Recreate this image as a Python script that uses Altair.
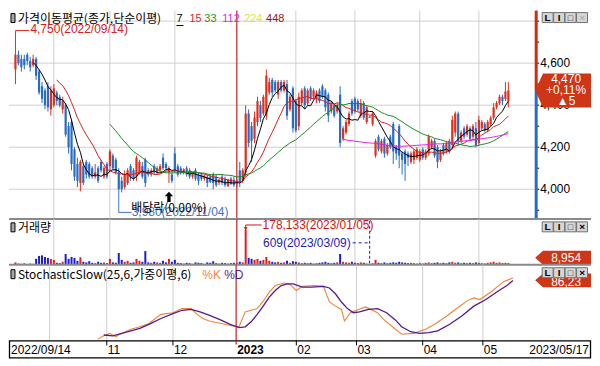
import altair as alt
import pandas as pd

# ------------------------------------------------------------------ data
opens = [4570, 4640, 4620, 4620, 4640, 4610, 4590, 4620, 4560, 4490,
         4470, 4490, 4380, 4400, 4460, 4440, 4380, 4400, 4300, 4320,
         4190, 4120, 4030, 4110, 4130, 4120, 4100, 4060, 4100, 4130,
         4060, 4120, 4110, 4160, 4140, 4080, 4040, 4010, 4030, 4110,
         4090, 4060, 4080, 4110, 4140, 4090, 4070, 4110, 4080, 4090,
         4150, 4120, 4080, 4070, 4170, 4110, 4100, 4080, 4100, 4090,
         4060, 4090, 4070, 4070, 4050, 4060, 4060, 4070, 4060, 4030,
         4060, 4050, 4015, 4050, 4045, 4025, 4090, 4040, 4080, 4360,
         4300, 4240, 4320, 4400, 4360, 4350, 4460, 4520, 4510, 4450,
         4510, 4470, 4500, 4380, 4480, 4420, 4300, 4410, 4480, 4410,
         4480, 4440, 4430, 4470, 4490, 4470, 4450, 4370, 4400, 4370,
         4450, 4240, 4270, 4310, 4420, 4430, 4420, 4350, 4410, 4320,
         4345, 4310, 4160, 4250, 4180, 4240, 4170, 4250, 4310, 4200,
         4300, 4170, 4180, 4170, 4130, 4140, 4150, 4140, 4190, 4150,
         4170, 4200, 4230, 4200, 4140, 4210, 4180, 4230, 4210, 4270,
         4360, 4230, 4290, 4260, 4290, 4250, 4290, 4220, 4290, 4310,
         4280, 4310, 4340, 4390, 4410, 4440, 4430, 4420]
highs = [4750, 4660, 4640, 4640, 4650, 4630, 4640, 4630, 4570, 4510,
         4480, 4510, 4490, 4500, 4470, 4450, 4440, 4410, 4320, 4330,
         4200, 4150, 4140, 4120, 4140, 4130, 4110, 4120, 4110, 4140,
         4110, 4130, 4190, 4170, 4150, 4100, 4060, 4090, 4100, 4120,
         4100, 4160, 4140, 4130, 4150, 4100, 4100, 4120, 4110, 4120,
         4170, 4130, 4110, 4080, 4200, 4120, 4110, 4100, 4110, 4100,
         4080, 4100, 4080, 4080, 4070, 4070, 4070, 4080, 4070, 4050,
         4070, 4060, 4050, 4060, 4060, 4050, 4130, 4100, 4400, 4380,
         4320, 4370, 4440, 4420, 4450, 4570, 4530, 4530, 4520, 4520,
         4520, 4520, 4520, 4450, 4490, 4430, 4460, 4480, 4490, 4480,
         4490, 4480, 4470, 4480, 4500, 4480, 4460, 4420, 4410, 4410,
         4490, 4300, 4330, 4370, 4430, 4440, 4430, 4430, 4420, 4400,
         4350, 4370, 4240, 4260, 4240, 4250, 4220, 4260, 4320, 4210,
         4310, 4180, 4190, 4180, 4180, 4190, 4200, 4190, 4200, 4190,
         4260, 4240, 4240, 4210, 4190, 4220, 4230, 4240, 4350, 4370,
         4370, 4280, 4300, 4310, 4300, 4310, 4320, 4350, 4330, 4320,
         4330, 4350, 4410, 4420, 4450, 4450, 4510, 4510]
lows = [4500, 4590, 4560, 4570, 4590, 4560, 4580, 4520, 4450, 4410,
        4380, 4370, 4350, 4390, 4400, 4390, 4360, 4250, 4170, 4090,
        4040, 4010, 3990, 4020, 4050, 4050, 4050, 4050, 4030, 4080,
        4050, 4050, 4090, 4090, 4070, 3980, 3985, 4000, 4020, 4040,
        4040, 4040, 4070, 4050, 4010, 4060, 4060, 4070, 4070, 4080,
        4090, 4090, 4030, 4030, 4080, 4060, 4070, 4070, 4060, 4050,
        4050, 4040, 4020, 4040, 4040, 4010, 4030, 4000, 4010, 4020,
        4020, 4010, 4010, 4020, 4010, 4010, 4010, 4030, 4060, 4200,
        4130, 4220, 4300, 4320, 4350, 4330, 4450, 4440, 4460, 4430,
        4460, 4460, 4330, 4370, 4270, 4270, 4280, 4400, 4380, 4400,
        4420, 4430, 4410, 4410, 4430, 4370, 4320, 4360, 4340, 4360,
        4200, 4230, 4260, 4300, 4350, 4360, 4370, 4340, 4330, 4310,
        4340, 4300, 4150, 4180, 4170, 4150, 4160, 4190, 4120, 4140,
        4100, 4070, 4040, 4110, 4120, 4120, 4140, 4130, 4140, 4140,
        4160, 4190, 4150, 4100, 4130, 4160, 4170, 4170, 4190, 4250,
        4210, 4220, 4240, 4250, 4230, 4240, 4200, 4210, 4280, 4270,
        4270, 4300, 4330, 4380, 4400, 4400, 4420, 4390]
closes = [4640, 4600, 4580, 4590, 4610, 4580, 4620, 4540, 4460, 4430,
          4400, 4390, 4470, 4480, 4420, 4400, 4420, 4260, 4200, 4120,
          4060, 4040, 4130, 4030, 4070, 4060, 4060, 4080, 4040, 4090,
          4100, 4060, 4180, 4100, 4080, 4000, 4000, 4070, 4090, 4060,
          4050, 4150, 4130, 4060, 4030, 4070, 4090, 4080, 4100, 4110,
          4100, 4100, 4100, 4040, 4090, 4070, 4080, 4095, 4070, 4060,
          4075, 4050, 4040, 4050, 4065, 4030, 4035, 4030, 4020, 4045,
          4030, 4020, 4045, 4025, 4020, 4040, 4030, 4090, 4360, 4220,
          4230, 4340, 4420, 4340, 4440, 4540, 4510, 4460, 4470, 4510,
          4470, 4510, 4350, 4440, 4290, 4280, 4440, 4470, 4400, 4470,
          4430, 4470, 4460, 4420, 4440, 4390, 4350, 4410, 4350, 4400,
          4220, 4290, 4320, 4360, 4360, 4370, 4380, 4410, 4340, 4390,
          4340, 4360, 4230, 4190, 4230, 4170, 4210, 4200, 4180, 4170,
          4160, 4140, 4120, 4150, 4170, 4180, 4190, 4180, 4150, 4180,
          4250, 4230, 4160, 4130, 4180, 4170, 4220, 4180, 4330, 4360,
          4230, 4270, 4250, 4300, 4240, 4300, 4210, 4330, 4320, 4280,
          4320, 4340, 4390, 4410, 4440, 4420, 4465, 4470]
volumes = [12000, 6000, 5000, 7000, 4000, 6000, 5000, 30000, 45000, 48000,
           40000, 35000, 30000, 25000, 10000, 8000, 15000, 55000, 30000, 40000,
           35000, 20000, 38000, 15000, 12000, 18000, 10000, 8000, 15000, 10000,
           12000, 8000, 30000, 12000, 10000, 60000, 25000, 15000, 20000, 10000,
           12000, 30000, 20000, 15000, 70000, 12000, 10000, 15000, 12000, 10000,
           20000, 12000, 30000, 15000, 25000, 10000, 8000, 6000, 10000, 8000,
           5000, 12000, 10000, 8000, 5000, 12000, 10000, 18000, 8000, 6000,
           10000, 8000, 6000, 8000, 10000, 8000, 15000, 12000, 178133, 35000,
           30000, 25000, 30000, 20000, 25000, 40000, 20000, 15000, 12000, 15000,
           10000, 12000, 20000, 10000, 18000, 15000, 12000, 8000, 10000, 8000,
           10000, 6000, 8000, 10000, 12000, 15000, 10000, 8000, 10000, 12000,
           55000, 15000, 12000, 10000, 15000, 10000, 8000, 12000, 10000, 6000,
           609, 8000, 25000, 10000, 8000, 12000, 8000, 10000, 12000, 10000,
           15000, 12000, 10000, 8000, 10000, 8000, 6000, 8000, 6000, 10000,
           12000, 8000, 10000, 12000, 8000, 10000, 8000, 12000, 15000, 10000,
           12000, 8000, 10000, 8000, 10000, 8000, 12000, 10000, 8000, 6000,
           10000, 12000, 15000, 10000, 12000, 8000, 10000, 8954]

k_idx = [29, 31, 33, 35, 37, 40, 43, 46, 50, 54, 57, 60, 62, 64, 66, 70, 74, 76,
         78, 80, 82, 84, 86, 88, 91, 93, 95, 97, 101, 104, 106, 108, 110, 111,
         113, 115, 118, 122, 124, 128, 130, 134, 138, 141, 145, 149, 152, 154,
         156, 160, 164, 167]
k_val = [15, 19, 22, 18, 22, 27, 30, 34, 45, 47, 52, 52, 45, 40, 37, 34, 31, 30,
         48, 50, 52, 61, 72, 80, 83, 81, 74, 79, 80, 79, 60, 55, 51, 37,
         47, 50, 54, 47, 39, 27, 21, 22, 27, 33, 43, 54, 62, 65,
         63, 73, 85, 89]
d_idx = [31, 34, 37, 40, 43, 46, 50, 54, 57, 60, 63, 66, 70, 73, 76, 78, 80, 82,
         84, 86, 88, 90, 92, 94, 97, 100, 104, 106, 108, 110, 112, 114, 116,
         119, 122, 125, 128, 130, 133, 136, 139, 142, 146, 150, 154, 158, 162,
         165, 167]
d_val = [20, 19, 22, 25, 28, 33, 40, 46, 50, 51, 48, 44, 38, 33, 29, 30, 36, 45,
         55, 66, 74, 80, 82, 82, 78, 78, 79, 77, 70, 60, 52, 47, 48,
         51, 52, 47, 38, 30, 24, 22, 23, 25, 33, 43, 55, 63, 73,
         80, 86]

month_idx = [13, 32, 54, 95, 115, 137, 157]
axis_idx = [32, 54, 95, 115, 137, 157]
axis_lbl = ['11', '12', '02', '03', '04', '05']
year_idx = 75
price_grid = [4000, 4200, 4400, 4600, 4800]
price_labels = [4000, 4200, 4400, 4600]
price_ticks = [3900, 4000, 4100, 4200, 4300, 4400, 4500, 4600, 4700, 4800]
ma_periods = [7, 15, 33, 112]

last_price = 4470
high_i, high_p = 0, 4750
low_i, low_p = 35, 3980
div_i = 52
vmax_i, vmin_i = 78, 120
stoch_last = 86.23

# ------------------------------------------------------------------ style
W, RA = 528, 56
H1, H2, H3, H4 = 209, 46, 76, 18
NF = "Liberation Sans, Arial, sans-serif"
KF = "Noto Sans CJK KR, sans-serif"
UP, DN = '#e0301c', '#2a6cc4'
VUP, VDN = '#e41c1c', '#1c1cd6'
GRID = '#cfcfcf'
YEARC = '#c81e1e'
SEP = '#8a8a8a'
BADGE = '#cf3517'
ma_colors = {7: '#000000', 15: '#e01e1e', 33: '#1e8a1e', 112: '#e41ee4'}

n = len(closes)
df = pd.DataFrame({'i': list(range(n)), 'open': opens, 'high': highs,
                   'low': lows, 'close': closes, 'vol': volumes})
df['col'] = [UP if c >= o else DN for o, c in zip(opens, closes)]
df['vcol'] = [VUP if c >= o else VDN for o, c in zip(opens, closes)]
for p in ma_periods:
    df[f'ma{p}'] = df['close'].rolling(p).mean()

ONE = pd.DataFrame({'d': [0]})
xs = alt.Scale(domain=[-0.5, 174.4], nice=False, zero=False)
ys1 = alt.Scale(domain=[3859, 4850], nice=False, zero=False)
ys2 = alt.Scale(domain=[0, 235000], nice=False, zero=True)
ys3 = alt.Scale(domain=[13.4, 105.2], nice=False, zero=False)
X = alt.X('i:Q', scale=xs, axis=None)


def Y1(f):
    return alt.Y(f, scale=ys1, axis=None)


def text(s, x, y, color='black', size=12, font=NF, align='left', weight='normal'):
    return alt.Chart(ONE).mark_text(text=s, align=align, baseline='middle', fontSize=size,
                                    font=font, color=color, fontWeight=weight).encode(
        x=alt.value(x), y=alt.value(y))


def icon(y0):
    return alt.Chart(ONE).mark_rect(fill='#a8a8a8', stroke='black', strokeWidth=1).encode(
        x=alt.value(2), x2=alt.value(6), y=alt.value(y0), y2=alt.value(y0 + 9))


def buttons(top, xcolor='black'):
    out = []
    glyphs = ['L', 'I', '□', '×']
    for k, g in enumerate(glyphs):
        x0 = W + 7 + k * 11.5
        out.append(alt.Chart(ONE).mark_rect(fill='#d6d6d6', stroke='#707070', strokeWidth=1).encode(
            x=alt.value(x0), x2=alt.value(x0 + 11), y=alt.value(top), y2=alt.value(top + 10)))
        out.append(alt.Chart(ONE).mark_text(text=g, fontSize=10 if g != '□' else 9, fontWeight='bold',
                                            font=NF, color=(xcolor if g == '×' else 'black'),
                                            baseline='middle', align='center').encode(
            x=alt.value(x0 + 5.5), y=alt.value(top + 5.5)))
    return out


def sep(h):
    return alt.Chart(ONE).mark_rule(color=SEP, strokeWidth=2).encode(
        x=alt.value(0), x2=alt.value(W + RA), y=alt.value(h))


def vgrid(h):
    return alt.Chart(pd.DataFrame({'i': month_idx})).mark_rule(color=GRID).encode(
        x=X, y=alt.value(0), y2=alt.value(h))


def yearline(h, top=0):
    return alt.Chart(pd.DataFrame({'i': [year_idx]})).mark_rule(color=YEARC, strokeWidth=1.2).encode(
        x=X, y=alt.value(top), y2=alt.value(h))


def badge(half):
    return f"M-1,0L-0.72,-{half}L1,-{half}L1,{half}L-0.72,{half}Z"


# ------------------------------------------------------------------ price panel
m_layers = [
    alt.Chart(pd.DataFrame({'p': price_grid})).mark_rule(color=GRID).encode(
        y=Y1('p:Q'), x=alt.value(0), x2=alt.value(W)),
    vgrid(H1),
    yearline(H1),
    alt.Chart(df).mark_rule(strokeWidth=1).encode(
        x=X, y=Y1('low:Q'), y2='high', color=alt.Color('col:N', scale=None)),
    alt.Chart(df).mark_bar(width=2.2).encode(
        x=X, y=Y1('open:Q'), y2='close', color=alt.Color('col:N', scale=None)),
]
for p in ma_periods:
    m_layers.append(alt.Chart(df).mark_line(color=ma_colors[p], strokeWidth=1).encode(
        x=X, y=Y1(f'ma{p}:Q')))

# right price axis (drawn as marks)
m_layers += [
    alt.Chart(pd.DataFrame({'p': price_ticks})).mark_rule(color='black').encode(
        x=alt.value(W), x2=alt.value(W + 4), y=Y1('p:Q')),
    alt.Chart(pd.DataFrame({'p': price_labels})).transform_calculate(
        t="format(datum.p, ',')").mark_text(align='left', baseline='middle', font=NF,
                                             fontSize=12, color='black', dx=0).encode(
        x=alt.value(W + 5), y=Y1('p:Q'), text='t:N'),
]

lp = pd.DataFrame({'p': [last_price]})
m_layers += [
    alt.Chart(lp).mark_rule(color='#d02a10', strokeWidth=3).encode(
        x=alt.value(W + 1), y=Y1('p:Q'), y2=alt.value(0)),
    alt.Chart(lp).mark_rule(color='#2a6cc4', strokeWidth=3).encode(
        x=alt.value(W + 1), y=Y1('p:Q'), y2=alt.value(H1)),
]

hi = pd.DataFrame({'i': [high_i], 'p': [high_p], 't': ['4,750(2022/09/14)']})
lo = pd.DataFrame({'i': [low_i], 'p': [low_p], 't': ['3,980(2022/11/04)']})
dv = pd.DataFrame({'i': [div_i], 'p': [lows[div_i]], 't': ['배당락(0.00%)']})
HIC, LOC = '#d42020', '#3c74c4'
m_layers += [
    alt.Chart(hi).mark_rule(color=HIC, x2Offset=14, yOffset=-1).encode(
        x=X, x2='i', y=Y1('p:Q')),
    alt.Chart(hi).mark_rule(color=HIC, yOffset=-1).encode(
        x=X, y=Y1('p:Q'), y2='p'),
    alt.Chart(hi).mark_text(align='left', baseline='middle', dx=15, dy=-3, color=HIC,
                            font=NF, fontSize=12).encode(
        x=X, y=Y1('p:Q'), text='t:N'),
    alt.Chart(lo).mark_rule(color=LOC, y2Offset=19).encode(
        x=X, y=Y1('p:Q'), y2='p'),
    alt.Chart(lo).mark_rule(color=LOC, yOffset=19, x2Offset=13).encode(
        x=X, x2='i', y=Y1('p:Q')),
    alt.Chart(lo).mark_text(align='left', baseline='middle', dx=13, dy=19, color=LOC,
                            font=NF, fontSize=12).encode(
        x=X, y=Y1('p:Q'), text='t:N'),
    alt.Chart(dv).mark_point(shape="M0,-1L0.8,-0.1L0.32,-0.1L0.32,1L-0.32,1L-0.32,-0.1L-0.8,-0.1Z",
                             size=110, filled=True, color='black', opacity=1, yOffset=14).encode(
        x=X, y=Y1('p:Q')),
    alt.Chart(dv).mark_text(align='center', baseline='middle', dy=25, color='black',
                            font=KF, fontSize=12).encode(
        x=X, y=Y1('p:Q'), text='t:N'),
]

m_layers += [
    icon(3),
    text('가격이동평균(종가,단순이평)', 9, 8, font=KF, size=12),
    text('7', 168, 8, size=11), text('15', 181, 8, color='#e01e1e', size=11),
    text('33', 196, 8, color='#1e9a1e', size=11),
    text('112', 214, 8, color='#e41ee4', size=11), text('224', 236, 8, color='#e6e61e', size=11),
    text('448', 258, 8, color='#8b1a1a', size=11),
    alt.Chart(ONE).mark_rule(color='black').encode(x=alt.value(168), x2=alt.value(175), y=alt.value(15)),
    alt.Chart(lp).mark_point(shape=badge(0.61), size=3136, filled=True, color=BADGE, opacity=1,
                             strokeWidth=0).encode(
        x=alt.value(W + 28), y=Y1('p:Q')),
    alt.Chart(lp).mark_text(text='4,470', color='white', font=NF, fontSize=12, dy=-11,
                            align='center', baseline='middle').encode(
        x=alt.value(W + 31), y=Y1('p:Q')),
    alt.Chart(lp).mark_text(text='+0,11%', color='white', font=NF, fontSize=12, dy=0,
                            align='center', baseline='middle').encode(
        x=alt.value(W + 31), y=Y1('p:Q')),
    alt.Chart(lp).mark_text(text='▲5', color='white', font=NF, fontSize=12, dy=11,
                            align='center', baseline='middle').encode(
        x=alt.value(W + 31), y=Y1('p:Q')),
]
m_layers += buttons(2, xcolor='#b0b0b0')
m_layers.append(sep(H1))
main = alt.layer(*m_layers).properties(width=W, height=H1)

# ------------------------------------------------------------------ volume panel
ax2 = alt.Axis(orient='right', values=[100000, 200000],
               labelExpr="datum.value == 100000 ? '100,000' : ''",
               grid=False, domain=True, domainColor='#555555', ticks=True, tickSize=3,
               tickColor='black', labelFont=NF, labelFontSize=12, labelColor='black',
               labelPadding=2, labelOverlap=False, labelFlush=False, title=None)
vmx = pd.DataFrame({'i': [vmax_i], 'v': [volumes[vmax_i]], 't': ['178,133(2023/01/05)']})
vmn = pd.DataFrame({'i': [vmin_i], 'v': [volumes[vmin_i]], 't': ['609(2023/03/09)']})
VMXC, VMNC = '#d41414', '#1c1cb8'
v_layers = [
    vgrid(H2), yearline(H2),
    alt.Chart(df).mark_bar(width=2).encode(
        x=X, y=alt.Y('vol:Q', scale=ys2, axis=ax2), color=alt.Color('vcol:N', scale=None)),
    alt.Chart(vmx).mark_rule(color=VMXC, yOffset=-5).encode(
        x=X, y=alt.Y('v:Q', scale=ys2, axis=None), y2='v'),
    alt.Chart(vmx).mark_rule(color=VMXC, yOffset=-5, x2Offset=16).encode(
        x=X, x2='i', y=alt.Y('v:Q', scale=ys2, axis=None)),
    alt.Chart(vmx).mark_point(shape='triangle-down', size=14, filled=True, color=VMXC, opacity=1,
                              yOffset=-1).encode(x=X, y=alt.Y('v:Q', scale=ys2, axis=None)),
    alt.Chart(vmx).mark_text(align='left', baseline='middle', dx=17, dy=-5, color=VMXC,
                             font=NF, fontSize=12).encode(
        x=X, y=alt.Y('v:Q', scale=ys2, axis=None), text='t:N'),
    alt.Chart(vmn).mark_rule(color=VMNC, strokeDash=[3, 2]).encode(
        x=X, y=alt.value(2), y2=alt.value(H2)),
    alt.Chart(vmn).mark_rule(color=VMNC, strokeDash=[3, 3], xOffset=-17).encode(
        x=X, x2='i', y=alt.value(24)),
    alt.Chart(vmn).mark_text(align='right', baseline='middle', dx=-19, color=VMNC,
                             font=NF, fontSize=12).encode(
        x=X, y=alt.value(24), text='t:N'),
    icon(4),
    text('거래량', 9, 9, font=KF, size=12),
    alt.Chart(ONE).mark_point(shape=badge(0.25), size=3136, filled=True, color=BADGE, opacity=1,
                              strokeWidth=0).encode(x=alt.value(W + 28), y=alt.value(H2 - 7)),
    text('8,954', W + 31, H2 - 7, color='white', align='center'),
]
v_layers += buttons(3)
v_layers.append(sep(H2))
vol = alt.layer(*v_layers).properties(width=W, height=H2)

# ------------------------------------------------------------------ stochastic panel
ax3 = alt.Axis(orient='right', values=[25, 37.5, 50, 62.5, 75, 87.5, 100],
               labelExpr="(datum.value % 25 == 0 && datum.value < 100) ? replace(format(datum.value, '.2f'), '.', ',') : ''",
               grid=False, domain=True, domainColor='#555555', ticks=True, tickSize=3,
               tickColor='black', labelFont=NF, labelFontSize=12, labelColor='black',
               labelPadding=2, labelOverlap=False, labelFlush=False, title=None)
kdf = pd.DataFrame({'i': k_idx, 'v': k_val})
ddf = pd.DataFrame({'i': d_idx, 'v': d_val})
sl = pd.DataFrame({'s': [stoch_last]})
KC, DC = '#f0843a', '#561a8a'
s_layers = [
    vgrid(H3), yearline(H3),
    alt.Chart(kdf).mark_line(color=KC, strokeWidth=1.1).encode(
        x=X, y=alt.Y('v:Q', scale=ys3, axis=ax3)),
    alt.Chart(ddf).mark_line(color=DC, strokeWidth=1.3).encode(
        x=X, y=alt.Y('v:Q', scale=ys3, axis=None)),
    icon(5),
    text('StochasticSlow(25,6,가중이평,6)', 9, 10, font=KF, size=12),
    text('%K', 194, 10, color=KC), text('%D', 216, 10, color=DC),
    alt.Chart(sl).mark_point(shape=badge(0.25), size=3136, filled=True, color=BADGE, opacity=1,
                             strokeWidth=0).encode(x=alt.value(W + 28), y=alt.Y('s:Q', scale=ys3, axis=None)),
    alt.Chart(sl).mark_text(text='86,23', color='white', font=NF, fontSize=12, align='center',
                            baseline='middle', dy=2).encode(
        x=alt.value(W + 31), y=alt.Y('s:Q', scale=ys3, axis=None)),
]
s_layers += buttons(3)
stoch = alt.layer(*s_layers).properties(width=W, height=H3)

# ------------------------------------------------------------------ date strip
lbl = pd.DataFrame({'i': axis_idx, 't': axis_lbl})
yr = pd.DataFrame({'i': [year_idx], 't': ['2023']})
t_layers = [
    alt.Chart(ONE).mark_rect(fill='white', stroke='black', strokeWidth=1.3).encode(
        x=alt.value(0.5), x2=alt.value(W + RA - 0.5), y=alt.value(0.5), y2=alt.value(H4 - 0.5)),
    alt.Chart(lbl).mark_rule(color='black').encode(x=X, y=alt.value(0), y2=alt.value(5)),
    yearline(4),
    alt.Chart(lbl).mark_text(align='left', baseline='middle', dx=1, font=NF, fontSize=12,
                             color='black').encode(x=X, y=alt.value(H4 / 2 + 1), text='t:N'),
    alt.Chart(yr).mark_text(align='left', baseline='middle', dx=1, font=NF, fontSize=12,
                            fontWeight='bold', color='black').encode(
        x=X, y=alt.value(H4 / 2 + 1), text='t:N'),
    text('2022/09/14', 2, H4 / 2 + 1),
    text('2023/05/17', W + RA - 2, H4 / 2 + 1, align='right'),
]
strip = alt.layer(*t_layers).properties(width=W, height=H4)

chart = alt.vconcat(main, vol, stoch, strip, spacing=0, bounds='flush').properties(
    padding=0).configure_view(strokeWidth=0)

chart.save("out.html", embed_options={"renderer": "svg", "actions": False})
